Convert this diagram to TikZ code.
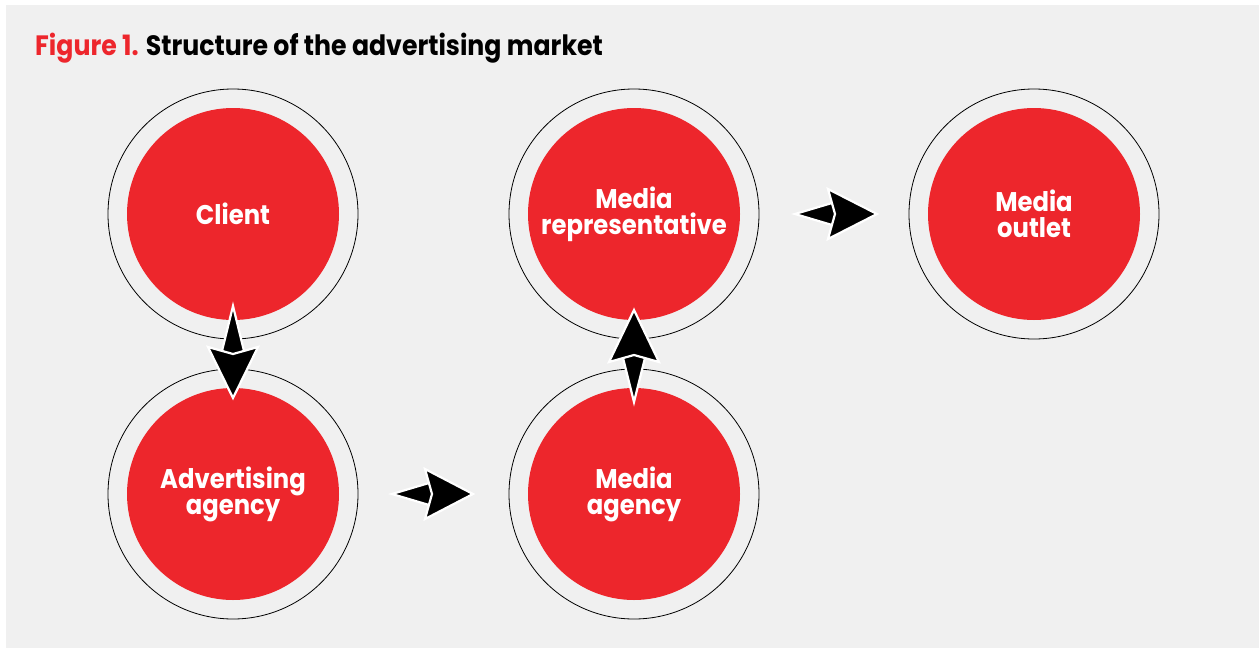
\documentclass[tikz,border=0pt]{standalone}
\usepackage{fontspec}
\setmainfont{Poppins}[FakeStretch=0.9]
\usetikzlibrary{calc}
\definecolor{brandred}{RGB}{237,38,44}
\definecolor{panelgray}{RGB}{240,240,240}

% Two-part connector: a small reversed tail and a large stealth head,
% both outlined in white so that a gap shows between them.
% #1 from node, #2 to node, #3 distance of the tail tip from #1,
% #4 distance of the head tip from #1, #5 tail tip to head back corners
\newcommand\linkarrow[5]{%
  \coordinate (la-s) at ($(#1)!#3!(#2)$);
  \coordinate (la-e) at ($(#1)!#4!(#2)$);
  \coordinate (la-t1) at ($(la-s)!#5+4pt!(la-e)!11pt!90:(la-e)$);
  \coordinate (la-t2) at ($(la-s)!#5+10pt!(la-e)$);
  \coordinate (la-t3) at ($(la-s)!#5+4pt!(la-e)!11pt!-90:(la-e)$);
  \coordinate (la-h1) at ($(la-s)!#5!(la-e)!25pt!90:(la-e)$);
  \coordinate (la-h2) at ($(la-s)!#5+7pt!(la-e)$);
  \coordinate (la-h3) at ($(la-s)!#5!(la-e)!25pt!-90:(la-e)$);
  \filldraw[arrowpart] (la-s) -- (la-t1) -- (la-t2) -- (la-t3) -- cycle;
  \filldraw[arrowpart] (la-e) -- (la-h1) -- (la-h2) -- (la-h3) -- cycle;
}

\begin{document}
\begin{tikzpicture}[x=1pt,y=-1pt,
  stage/.style={circle, fill=brandred, text=white, minimum size=212pt,
    inner sep=0pt, align=center,
    font=\bfseries\fontsize{27}{26}\selectfont},
  ring/.style={draw=black, line width=0.8pt},
  arrowpart/.style={fill=black, draw=white, line width=2.2pt, line join=miter}]

\useasboundingbox (0,0) rectangle (1259,648);
\fill[white] (0,0) rectangle (1259,648);
\fill[panelgray] (6,5) rectangle (1259,648);

% heading
\node[anchor=base west, inner sep=0pt, font=\bfseries\fontsize{28}{30}\selectfont]
  (title) at (35,55) {\textcolor{brandred}{Figure 1.} Structure of the advertising market};

% market participants
\node[stage] (client)      at (233,214)  {Client};
\node[stage] (adagency)    at (233,494)  {Advertising\\agency};
\node[stage] (mediaagency) at (634,494)  {Media\\agency};
\node[stage] (mediarep)    at (634,214)  {Media\\representative};
\node[stage] (outlet)      at (1034,214) {Media\\outlet};

\foreach \n in {client,adagency,mediaagency,mediarep,outlet}
  \draw[ring] (\n) circle[radius=125];

% flows between participants
\linkarrow{client}{adagency}{92pt}{184pt}{41pt}
\linkarrow{adagency}{mediaagency}{159pt}{240pt}{33pt}
\linkarrow{mediaagency}{mediarep}{92pt}{184pt}{40pt}
\linkarrow{mediarep}{outlet}{161pt}{243pt}{33pt}
\end{tikzpicture}
\end{document}
